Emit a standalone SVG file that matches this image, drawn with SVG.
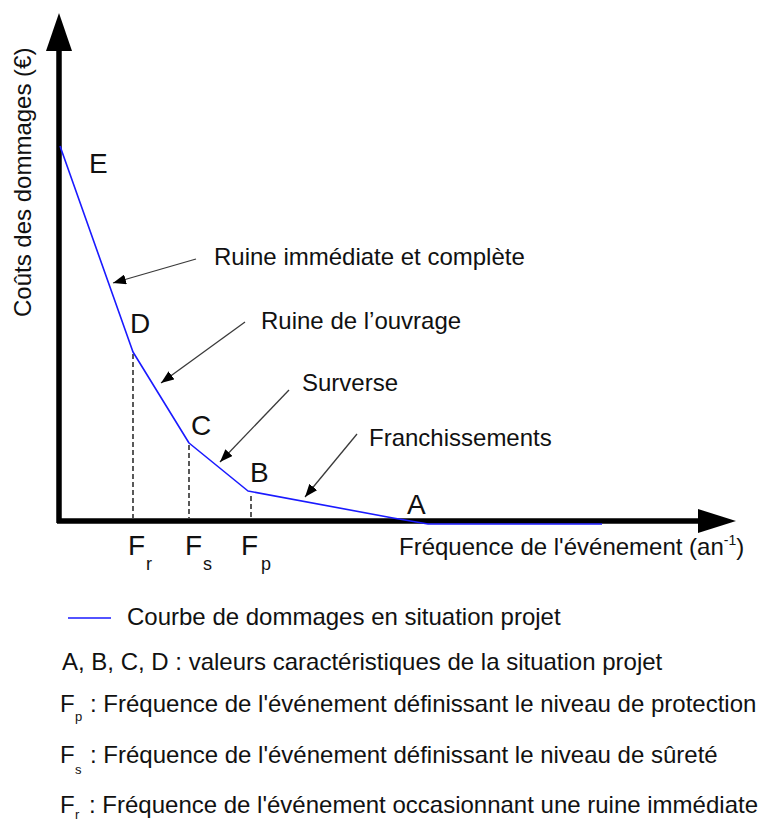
<svg xmlns="http://www.w3.org/2000/svg" width="758" height="821" viewBox="0 0 758 821">
  <style>
    text { font-family: "Liberation Sans", Arial, sans-serif; fill: #111; }
    .lbl { font-size: 24px; }
    .pt { font-size: 28px; }
    .sub { font-size: 18px; }
    .lsub { font-size: 13px; }
    .axis { stroke: #000; stroke-width: 5.5; fill: none; }
    .curve { stroke: #1a1aff; stroke-width: 1.6; fill: none; stroke-linejoin: round; }
    .dash { stroke: #000; stroke-width: 1.3; stroke-dasharray: 5 3; fill: none; }
    .lead { stroke: #3a3a3a; stroke-width: 1.3; fill: none; marker-end: url(#head); }
  </style>
  <defs>
    <marker id="head" markerUnits="userSpaceOnUse" markerWidth="14" markerHeight="10" refX="13" refY="5" orient="auto">
      <path d="M0,0 L13,5 L0,10 z" fill="#000"/>
    </marker>
  </defs>
  <rect width="758" height="821" fill="#fff"/>

  <!-- axes -->
  <g id="axes">
    <path class="axis" d="M59,523 L59,48 M57,521 L700,521"/>
    <polygon points="59,13 46,51 72,51" fill="#000"/>
    <polygon points="736,521 698,509 698,533" fill="#000"/>
    <text class="lbl" transform="translate(31,317) rotate(-90)">Coûts des dommages (€)</text>
    <text class="lbl" x="399" y="555">Fréquence de l'événement (an<tspan font-size="14" dy="-10">-1</tspan><tspan dy="10">)</tspan></text>
  </g>

  <!-- frequency markers -->
  <g id="markers">
    <path class="dash" d="M133,354 L133,518 M189,445 L189,518 M251,496 L251,518"/>
    <text class="pt" x="128" y="555">F</text><text class="sub" x="146" y="570">r</text>
    <text class="pt" x="185" y="555">F</text><text class="sub" x="203" y="570">s</text>
    <text class="pt" x="241" y="555">F</text><text class="sub" x="261" y="570">p</text>
  </g>

  <!-- damage curve -->
  <g id="curve">
    <polyline class="curve" points="60,146 133,352 189,443 248,491 393,518 428,524 602,524"/>
  </g>

  <!-- characteristic points -->
  <g id="point-E"><text class="pt" x="89" y="173">E</text></g>
  <g id="point-D"><text class="pt" x="130" y="333">D</text></g>
  <g id="point-C"><text class="pt" x="191" y="435">C</text></g>
  <g id="point-B"><text class="pt" x="250" y="482">B</text></g>
  <g id="point-A"><text class="pt" x="407" y="514">A</text></g>

  <!-- annotation labels -->
  <g id="label-ruine-immediate"><text class="lbl" x="214" y="265">Ruine immédiate et complète</text></g>
  <g id="label-ruine-ouvrage"><text class="lbl" x="261" y="329">Ruine de l’ouvrage</text></g>
  <g id="label-surverse"><text class="lbl" x="302" y="391">Surverse</text></g>
  <g id="label-franchissements"><text class="lbl" x="369" y="446">Franchissements</text></g>

  <!-- leader arrows -->
  <g id="connectors">
    <line class="lead" x1="196" y1="259" x2="113" y2="283"/>
    <line class="lead" x1="245" y1="322" x2="161" y2="383"/>
    <line class="lead" x1="289" y1="390" x2="220" y2="462"/>
    <line class="lead" x1="357" y1="434" x2="305" y2="497"/>
  </g>

  <!-- legend -->
  <g id="legend">
    <line x1="68" y1="618" x2="111" y2="618" stroke="#1a1aff" stroke-width="1.6"/>
    <text class="lbl" x="127" y="625">Courbe de dommages en situation projet</text>
    <text class="lbl" x="62" y="670">A, B, C, D : valeurs caractéristiques de la situation projet</text>
    <text class="lbl" x="60" y="712">F</text><text class="lsub" x="75" y="721">p</text>
    <text class="lbl" x="90" y="712">: Fréquence de l'événement définissant le niveau de protection</text>
    <text class="lbl" x="60" y="763">F</text><text class="lsub" x="75" y="774">s</text>
    <text class="lbl" x="90" y="763">: Fréquence de l'événement définissant le niveau de sûreté</text>
    <text class="lbl" x="60" y="813">F</text><text class="lsub" x="75" y="819">r</text>
    <text class="lbl" x="89" y="813">: Fréquence de l'événement occasionnant une ruine immédiate</text>
  </g>
</svg>
